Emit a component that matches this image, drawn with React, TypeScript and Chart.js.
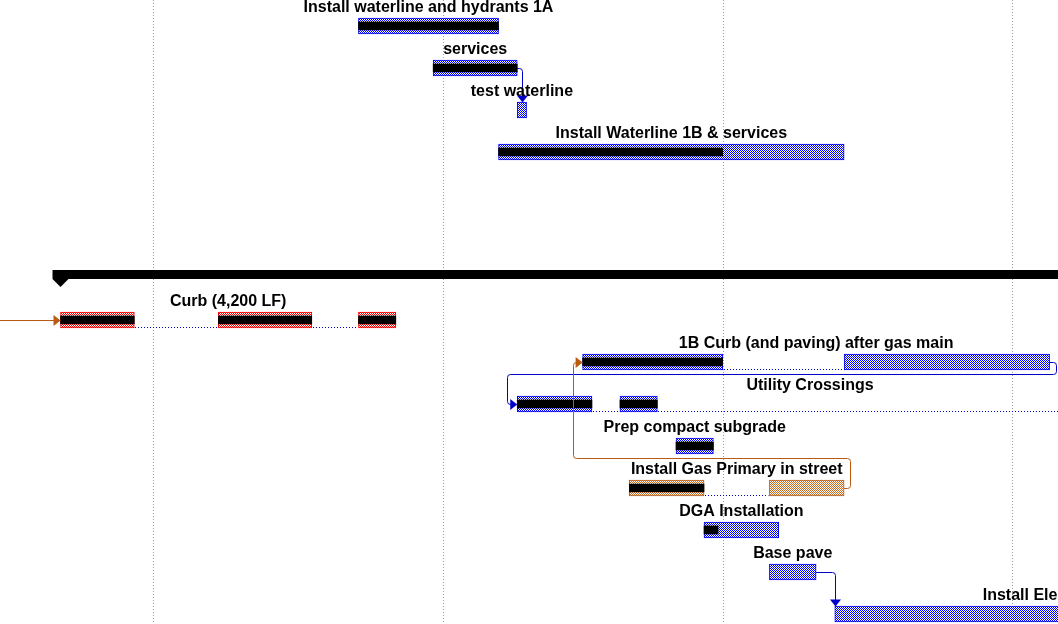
import React, { useEffect, useRef } from "react";
import { Chart, registerables } from "chart.js";

Chart.register(...registerables);

// ---- data (days; day 0 = first month gridline) ----
const gridDays = [0, 31, 61, 92];
const viewStart = -16.38;
const viewEnd = 96.9;

const taskNames = [
  "Install waterline and hydrants 1A",
  "services",
  "test waterline",
  "Install Waterline 1B & services",
  "Curb (4,200 LF)",
  "1B Curb (and paving) after gas main",
  "Utility Crossings",
  "Prep compact subgrade",
  "Install Gas Primary in street",
  "DGA Installation",
  "Base pave",
  "Install Electric",
];
const taskRows = [0, 1, 2, 3, 7, 8, 9, 10, 11, 12, 13, 14];
const taskSegments: number[][][] = [
  [[22, 37]],
  [[30, 39]],
  [[39, 40]],
  [[37, 74]],
  [[-9.9, -2], [7, 17], [22, 26]],
  [[46, 61], [74, 96]],
  [[39, 47], [50, 54], [99, 101.7]],
  [[56, 60]],
  [[51, 59], [66, 74]],
  [[59, 67]],
  [[66, 71]],
  [[73, 116.3]],
];
const taskProgress: (number | null)[] = [37, 39, null, 61, 26, 61, 54, 60, 59, 60.5, null, null];
const taskStyles = ["blue", "blue", "blue", "blue", "red", "blue", "blue", "blue", "orange", "blue", "blue", "blue"];

const summaryRows = [6];
const summaryStart = [-9.9];
const summaryEnd = [130];

// links: predecessor task index (-1 = off-chart), successor task index
const linkFrom = [1, 5, 8, 10, -1];
const linkTo = [2, 6, 5, 11, 4];
const linkStyles = ["blue", "blue", "orange", "blue", "orange"];

const palette: Record<string, { pat: string; border: string; link: string }> = {
  blue: { pat: "#0000ff", border: "#0000ff", link: "#0000c8" },
  red: { pat: "#ff0000", border: "#ff0000", link: "#c00000" },
  orange: { pat: "#c8691e", border: "#b45f1e", link: "#b85a10" },
};

function makePattern(color: string): CanvasPattern | string {
  const c = document.createElement("canvas");
  c.width = 2;
  c.height = 2;
  const g = c.getContext("2d");
  if (!g) return color;
  g.fillStyle = "#ffffff";
  g.fillRect(0, 0, 2, 2);
  g.fillStyle = color;
  g.fillRect(0, 0, 1, 1);
  g.fillRect(1, 1, 1, 1);
  const p = g.createPattern(c, "repeat");
  return p || color;
}

function polyline(ctx: CanvasRenderingContext2D, pts: number[][], r: number) {
  ctx.beginPath();
  ctx.moveTo(pts[0][0], pts[0][1]);
  for (let i = 1; i < pts.length - 1; i++) {
    ctx.arcTo(pts[i][0], pts[i][1], pts[i + 1][0], pts[i + 1][1], r);
  }
  ctx.lineTo(pts[pts.length - 1][0], pts[pts.length - 1][1]);
  ctx.stroke();
}

function arrowRight(ctx: CanvasRenderingContext2D, x: number, y: number) {
  ctx.beginPath();
  ctx.moveTo(x, y);
  ctx.lineTo(x - 7, y - 5.5);
  ctx.lineTo(x - 7, y + 5.5);
  ctx.closePath();
  ctx.fill();
}

function arrowDown(ctx: CanvasRenderingContext2D, x: number, y: number) {
  ctx.beginPath();
  ctx.moveTo(x, y);
  ctx.lineTo(x - 5.5, y - 7);
  ctx.lineTo(x + 5.5, y - 7);
  ctx.closePath();
  ctx.fill();
}

const ganttPlugin = {
  id: "gantt",
  beforeDatasetsDraw(chart: any) {
    const ctx: CanvasRenderingContext2D = chart.ctx;
    const xs = chart.scales.x;
    const area = chart.chartArea;
    ctx.save();
    ctx.strokeStyle = "#9a9a9a";
    ctx.lineWidth = 1;
    ctx.setLineDash([1, 2]);
    gridDays.forEach((d) => {
      const px = Math.round(xs.getPixelForValue(d)) + 0.5;
      ctx.beginPath();
      ctx.moveTo(px, area.top);
      ctx.lineTo(px, area.bottom);
      ctx.stroke();
    });
    ctx.restore();
  },
  afterDatasetsDraw(chart: any) {
    const ctx: CanvasRenderingContext2D = chart.ctx;
    const xs = chart.scales.x;
    const ys = chart.scales.y;
    ctx.save();

    // summary bars
    summaryRows.forEach((row, i) => {
      const cy = ys.getPixelForValue(row);
      const sx = xs.getPixelForValue(summaryStart[i]);
      const ex = xs.getPixelForValue(summaryEnd[i]);
      const top = Math.round(cy - 8);
      ctx.fillStyle = "#000000";
      ctx.fillRect(sx - 8, top, ex - sx + 8, 9);
      ctx.beginPath();
      ctx.moveTo(sx - 8, top + 9);
      ctx.lineTo(sx + 8, top + 9);
      ctx.lineTo(sx, top + 17);
      ctx.closePath();
      ctx.fill();
    });

    // dotted lines between split segments
    ctx.strokeStyle = "#0000c0";
    ctx.lineWidth = 1;
    ctx.setLineDash([1, 2]);
    taskSegments.forEach((segs, t) => {
      const cy = ys.getPixelForValue(taskRows[t]);
      for (let k = 0; k < segs.length - 1; k++) {
        const a = Math.round(xs.getPixelForValue(segs[k][1]));
        const b = xs.getPixelForValue(segs[k + 1][0]);
        const y = Math.round(cy + 7) + 0.5;
        ctx.beginPath();
        ctx.moveTo(a + 1, y);
        ctx.lineTo(b - 1, y);
        ctx.stroke();
      }
    });
    ctx.setLineDash([]);

    // links
    linkFrom.forEach((from, i) => {
      const to = linkTo[i];
      const col = palette[linkStyles[i]].link;
      ctx.strokeStyle = col;
      ctx.fillStyle = col;
      ctx.lineWidth = 1;
      const ss = xs.getPixelForValue(taskSegments[to][0][0]);
      const sy = Math.round(ys.getPixelForValue(taskRows[to])) + 0.5;
      if (from < 0) {
        polyline(ctx, [[chart.chartArea.left, sy], [ss - 6, sy]], 0);
        arrowRight(ctx, ss, sy);
        return;
      }
      const fsegs = taskSegments[from];
      const pe = xs.getPixelForValue(fsegs[fsegs.length - 1][1]);
      const py = Math.round(ys.getPixelForValue(taskRows[from])) + 0.5;
      if (ss >= pe - 1 && sy > py) {
        const vx = Math.round(Math.max(pe + 5, ss)) + 0.5;
        const tipY = sy - 8;
        polyline(ctx, [[pe, py], [vx, py], [vx, tipY - 6]], 3);
        arrowDown(ctx, vx, tipY);
      } else {
        const hy = Math.max(py, sy) - 30;
        const rx = Math.round(pe + 6) + 0.5;
        const lx = Math.round(ss - 10) + 0.5;
        polyline(ctx, [[pe, py], [rx, py], [rx, hy], [lx, hy], [lx, sy], [ss - 6, sy]], 3);
        arrowRight(ctx, ss, sy);
      }
    });

    // labels
    ctx.fillStyle = "#000000";
    ctx.font = "bold 16px 'Liberation Sans', Arial, sans-serif";
    ctx.textAlign = "center";
    ctx.textBaseline = "alphabetic";
    taskNames.forEach((name, t) => {
      const segs = taskSegments[t];
      const a = xs.getPixelForValue(segs[0][0]);
      const b = xs.getPixelForValue(segs[segs.length - 1][1]);
      const cy = ys.getPixelForValue(taskRows[t]);
      ctx.fillText(name, (a + b) / 2, cy - 14);
    });
    ctx.restore();
  },
};

export default function App() {
  const ref = useRef<HTMLCanvasElement | null>(null);
  useEffect(() => {
    document.body.style.margin = "0";
    const canvas = ref.current;
    if (!canvas) return;
    const pats: Record<string, CanvasPattern | string> = {};
    Object.keys(palette).forEach((k) => (pats[k] = makePattern(palette[k].pat)));

    const barData: any[] = [];
    const barBg: any[] = [];
    const barBorder: string[] = [];
    const progData: any[] = [];
    taskSegments.forEach((segs, t) => {
      segs.forEach((s) => {
        barData.push({ x: [s[0], s[1]], y: taskRows[t] });
        barBg.push(pats[taskStyles[t]]);
        barBorder.push(palette[taskStyles[t]].border);
        const p = taskProgress[t];
        if (p !== null && p > s[0]) {
          progData.push({ x: [s[0], Math.min(s[1], p)], y: taskRows[t] });
        }
      });
    });

    const chart = new Chart(canvas, {
      type: "bar",
      data: {
        datasets: [
          {
            data: barData,
            backgroundColor: barBg,
            borderColor: barBorder,
            borderWidth: 1,
            borderSkipped: false,
            barThickness: 16,
            grouped: false,
            order: 2,
          } as any,
          {
            data: progData,
            backgroundColor: "#000000",
            borderWidth: 0,
            barThickness: 8,
            grouped: false,
            order: 1,
          } as any,
        ],
      },
      options: {
        indexAxis: "y",
        animation: false,
        responsive: true,
        maintainAspectRatio: false,
        layout: { padding: 0 },
        plugins: { legend: { display: false }, tooltip: { enabled: false } },
        scales: {
          x: { type: "linear", min: viewStart, max: viewEnd, display: false },
          y: {
            type: "linear",
            min: -26 / 42,
            max: (624 - 26) / 42,
            reverse: true,
            offset: false,
            display: false,
          },
        },
      } as any,
      plugins: [ganttPlugin],
    });
    return () => chart.destroy();
  }, []);
  return (
    <div style={{ width: 1058, height: 624, position: "relative" }}>
      <canvas ref={ref} />
    </div>
  );
}
